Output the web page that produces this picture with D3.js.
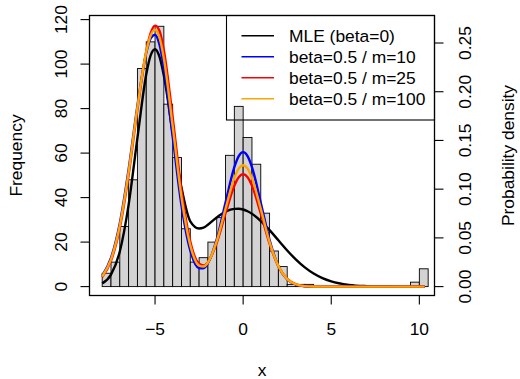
<!DOCTYPE html>
<html><head><meta charset="utf-8">
<script src="https://cdn.jsdelivr.net/npm/d3@7"></script>
<style>body{margin:0;background:#fff}svg{display:block}text{font-family:"Liberation Sans",Arial,sans-serif;font-size:17.4px;fill:#000}</style>
</head><body>
<script>
// histogram bins (left edges, width 0.5) and counts
const binLeft = [-8,-7.5,-7,-6.5,-6,-5.5,-5,-4.5,-4,-3.5,-3,-2.5,-2,-1.5,-1,-0.5,0,0.5,1,1.5,2,2.5,3,3.5,4,4.5,5,5.5,6,6.5,7,7.5,8,8.5,9,9.5,10];
const counts  = [6,11,27,48,98,110,117,82,58,26,11,13,20,31,59,81,67,55,33,16,9,1,1,1,0,0,0,0,0,0,0,0,0,0,0,2,8];
const binWidth = 0.5;
// density curves
const curveX = [-8,-7.5,-7,-6.5,-6,-5.5,-5.25,-5,-4.75,-4.5,-4,-3.5,-3,-2.5,-2.25,-2,-1.5,-1,-0.5,-0.25,0,0.25,0.5,1,1.5,2,2.5,3,3.5,4,4.5,5,6,7,8,9,10.3];
const mleY    = [0.0033,0.0123,0.0361,0.0839,0.1526,0.2176,0.2372,0.2436,0.2360,0.2165,0.1573,0.1016,0.0670,0.0597,0.0605,0.0635,0.0710,0.0770,0.0798,0.0799,0.0791,0.0773,0.0747,0.0673,0.0579,0.0475,0.0371,0.0277,0.0197,0.0134,0.0087,0.0054,0.0018,0.0005,0.0001,0,0];
const m10Y    = [0.0111,0.0294,0.0651,0.1203,0.1858,0.2398,0.2546,0.2585,0.2485,0.2249,0.1539,0.0832,0.0370,0.0189,0.0188,0.0240,0.0484,0.0862,0.1227,0.1340,0.1380,0.1340,0.1227,0.0861,0.0478,0.0210,0.0073,0.0020,0.0004,0.0001,0,0,0,0,0,0,0];
const m25Y    = [0.0097,0.0264,0.0601,0.1144,0.1818,0.2414,0.2600,0.2678,0.2625,0.2426,0.1737,0.0987,0.0463,0.0234,0.0216,0.0251,0.0449,0.0753,0.1036,0.1123,0.1153,0.1123,0.1036,0.0751,0.0440,0.0208,0.0079,0.0024,0.0006,0.0001,0,0,0,0,0,0,0];
const m100Y   = [0.0104,0.0279,0.0627,0.1175,0.1840,0.2409,0.2577,0.2635,0.2559,0.2342,0.1646,0.0918,0.0423,0.0216,0.0206,0.0248,0.0466,0.0799,0.1114,0.1211,0.1245,0.1211,0.1114,0.0798,0.0457,0.0210,0.0077,0.0023,0.0005,0.0001,0,0,0,0,0,0,0];
const seriesNames = ["MLE (beta=0)","beta=0.5 / m=10","beta=0.5 / m=25","beta=0.5 / m=100"];
const seriesColors = ["#000000","#0000ff","#ff0000","#ffa500"];
const xTicks = [-5,0,5,10];
const countTicks = [0,20,40,60,80,100,120];
const densTicks = [0,0.05,0.10,0.15,0.20,0.25];

const W=520,H=379, L=89.5,R=434.5,T=15.5,B=295.5;
const svg=d3.select("body").append("svg").attr("width",W).attr("height",H);
const x=d3.scaleLinear().domain([-8.72,10.86]).range([L,R]);
const yC=d3.scaleLinear().domain([0,120]).range([286.6,19.6]);
const yD=d3.scaleLinear().domain([0,0.25]).range([286.6,43]);

// bars
svg.append("g").selectAll("rect").data(binLeft).join("rect")
  .attr("x",d=>x(d)).attr("width",d=>x(d+binWidth)-x(d))
  .attr("y",(d,i)=>yC(counts[i])).attr("height",(d,i)=>yC(0)-yC(counts[i]))
  .attr("fill","#d3d3d3").attr("stroke","#000").attr("stroke-width",0.9);

// curves
const allY=[mleY,m10Y,m25Y,m100Y];
const line=d3.line().x(d=>x(d[0])).y(d=>yD(d[1])).curve(d3.curveMonotoneX);
allY.forEach((ys,k)=>{
  svg.append("path").attr("d",line(curveX.map((v,i)=>[v,ys[i]])))
    .attr("fill","none").attr("stroke",seriesColors[k]).attr("stroke-width",2.4).attr("stroke-linejoin","round");
});

// box
svg.append("rect").attr("x",L).attr("y",T).attr("width",R-L).attr("height",B-T)
  .attr("fill","none").attr("stroke","#000").attr("stroke-width",1.3);

// x axis
const gx=svg.append("g");
xTicks.forEach(t=>{
  gx.append("line").attr("x1",x(t)).attr("x2",x(t)).attr("y1",B).attr("y2",B+9).attr("stroke","#000").attr("stroke-width",1.1);
  gx.append("text").attr("x",x(t)).attr("y",335).attr("text-anchor","middle").text(t<0?"\u2212"+Math.abs(t):String(t));
});
svg.append("text").attr("x",(L+R)/2).attr("y",376).attr("text-anchor","middle").text("x");

// left axis
countTicks.forEach(t=>{
  svg.append("line").attr("x1",L-9).attr("x2",L).attr("y1",yC(t)).attr("y2",yC(t)).attr("stroke","#000").attr("stroke-width",1.1);
  svg.append("text").attr("transform",`translate(67,${yC(t)}) rotate(-90)`).attr("text-anchor","middle").text(t);
});
svg.append("text").attr("transform",`translate(22,${(T+B)/2}) rotate(-90)`).attr("text-anchor","middle").text("Frequency");

// right axis
densTicks.forEach(t=>{
  svg.append("line").attr("x1",R).attr("x2",R+9).attr("y1",yD(t)).attr("y2",yD(t)).attr("stroke","#000").attr("stroke-width",1.1);
  svg.append("text").attr("transform",`translate(471,${yD(t)}) rotate(-90)`).attr("text-anchor","middle").text(t.toFixed(2));
});
svg.append("text").attr("transform",`translate(514,${(T+B)/2}) rotate(-90)`).attr("text-anchor","middle").text("Probability density");

// legend
const lg=svg.append("g");
lg.append("rect").attr("x",226.5).attr("y",T).attr("width",R-226.5).attr("height",120-T)
  .attr("fill","none").attr("stroke","#000").attr("stroke-width",1.1);
seriesNames.forEach((n,i)=>{
  const yy=35.7+i*21;
  lg.append("line").attr("x1",241.5).attr("x2",274).attr("y1",yy).attr("y2",yy).attr("stroke",seriesColors[i]).attr("stroke-width",1.5);
  lg.append("text").attr("x",289).attr("y",yy+6).text(n);
});
</script>
</body></html>
